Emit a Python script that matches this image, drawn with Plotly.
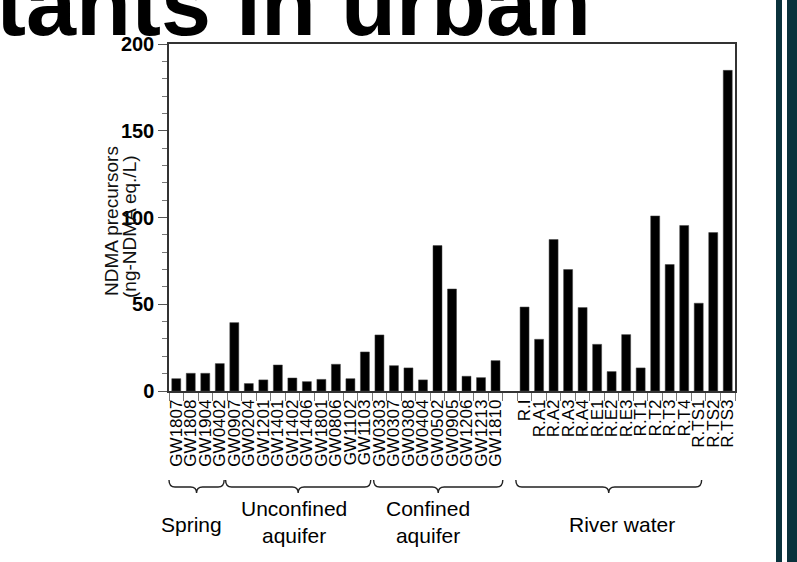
import plotly.graph_objects as go

# ---------------- data ----------------
spring_labels = ["GW1807", "GW1808", "GW1904", "GW0402"]
spring_values = [7.1, 10.2, 10.2, 15.8]

unconfined_labels = ["GW0907", "GW0204", "GW1201", "GW1401", "GW1402",
                     "GW1406", "GW1801", "GW0806", "GW1102", "GW1103"]
unconfined_values = [39.4, 4.3, 6.4, 15.0, 7.5, 5.4, 6.7, 15.4, 7.1, 22.5]

confined_labels = ["GW0303", "GW0307", "GW0308", "GW0404", "GW0502",
                   "GW0905", "GW1206", "GW1213", "GW1810"]
confined_values = [32.3, 14.6, 13.3, 6.4, 83.8, 58.8, 8.5, 7.7, 17.5]

gap_labels = [" "]
gap_values = [None]

river_labels = ["R.I", "R.A1", "R.A2", "R.A3", "R.A4", "R.E1", "R.E2", "R.E3",
                "R.T1", "R.T2", "R.T3", "R.T4", "R.TS1", "R.TS2", "R.TS3"]
river_values = [48.4, 29.8, 87.3, 70.0, 48.1, 26.9, 11.2, 32.5,
                13.3, 100.9, 72.9, 95.4, 50.6, 91.3, 184.8]

group_names = ["Spring", "Unconfined<br>aquifer", "Confined<br>aquifer", "River water"]
y_ticks = [0, 50, 100, 150, 200]

categories = spring_labels + unconfined_labels + confined_labels + gap_labels + river_labels
values = spring_values + unconfined_values + confined_values + gap_values + river_values
n = len(categories)

# ---------------- geometry helpers ----------------
W, H = 797, 562
L, R, T, B = 169, 735, 44, 391
pw, ph = R - L, B - T


def px(x):
    return (x - L) / pw


def py(y):
    return (B - y) / ph


def ix(i):
    return (i + 0.5) / n


FONT = "Liberation Sans, Arial, sans-serif"

fig = go.Figure()
fig.add_trace(go.Bar(
    x=categories, y=values,
    marker=dict(color="#000000", line=dict(color="#444444", width=0.5)),
    width=0.62,
    showlegend=False,
))

fig.update_layout(
    width=W, height=H,
    margin=dict(l=L, r=W - R, t=T, b=H - B, pad=0, autoexpand=False),
    paper_bgcolor="white", plot_bgcolor="white",
    font=dict(family=FONT, color="black"),
)

fig.update_xaxes(
    type="category", range=[-0.5, n - 0.5], automargin=False,
    tickmode="array", tickvals=categories, ticktext=categories,
    tickson="boundaries", ticks="outside", ticklen=8, tickcolor="#777", tickwidth=1,
    tickangle=-90, tickfont=dict(family=FONT, size=17, color="black"),
    showline=True, linecolor="#333", linewidth=1.5, mirror=True,
    showgrid=False, zeroline=False,
)
fig.update_yaxes(
    range=[0, 200], tickvals=y_ticks, ticks="outside", ticklen=9, automargin=False,
    tickcolor="#555", tickwidth=1,
    minor=dict(dtick=10, ticks="outside", ticklen=5, tickcolor="#777", tickwidth=1),
    tickfont=dict(family=FONT, size=20, color="black", weight="bold"),
    showline=True, linecolor="#333", linewidth=1.5, mirror=True,
    showgrid=False, zeroline=False,
)

# y-axis title (two lines)
fig.add_annotation(text="NDMA precursors", x=px(111), y=py(221), xref="paper", yref="paper",
                   xanchor="center", yanchor="middle",
                   textangle=-90, showarrow=False, font=dict(family=FONT, size=19, color="#111"))
fig.add_annotation(text="(ng-NDMA eq./L)", x=px(130), y=py(227), xref="paper", yref="paper",
                   xanchor="center", yanchor="middle",
                   textangle=-90, showarrow=False, font=dict(family=FONT, size=19, color="#111"))

# slide title (partially cut)
fig.add_annotation(text="<b>tants in urban</b>", x=px(-6), y=py(4), xref="paper", yref="paper",
                   xanchor="left", yanchor="middle", showarrow=False,
                   font=dict(family=FONT, size=90, color="black"))

# curly braces under groups (in category index units)
brace_spans = [(-0.5, 3.3), (3.4, 13.4), (13.6, 22.5), (23.4, 36.2)]
ytop, ymid, ytip = py(480), py(487), py(493)
r = 6 / pw
for a, b in brace_spans:
    x0, x1 = ix(a), ix(b)
    xm = (x0 + x1) / 2
    path = (f"M {x0},{ytop} Q {x0},{ymid} {x0 + r},{ymid} L {xm - r},{ymid} "
            f"Q {xm},{ymid} {xm},{ytip} Q {xm},{ymid} {xm + r},{ymid} "
            f"L {x1 - r},{ymid} Q {x1},{ymid} {x1},{ytop}")
    fig.add_shape(type="path", path=path, xref="paper", yref="paper",
                  line=dict(color="#222", width=1.4))

# group labels
group_pos = [(191, 524), (294, 522), (428, 522), (622, 524)]
for name, (gx, gy) in zip(group_names, group_pos):
    fig.add_annotation(text=name, x=px(gx), y=py(gy), xref="paper", yref="paper",
                       xanchor="center", yanchor="middle",
                       showarrow=False, font=dict(family=FONT, size=21, color="black"))

# slide decoration: dark teal vertical bars at right
for xa, xb in [(776, 782), (787, 800)]:
    fig.add_shape(type="rect", xref="paper", yref="paper",
                  x0=px(xa), x1=px(xb), y0=py(H + 5), y1=py(-5),
                  fillcolor="#0a323c", line=dict(width=0))

fig.write_html("out.html", config={"displayModeBar": False},
               post_script="document.body.style.margin='0';document.body.style.overflow='hidden';")
